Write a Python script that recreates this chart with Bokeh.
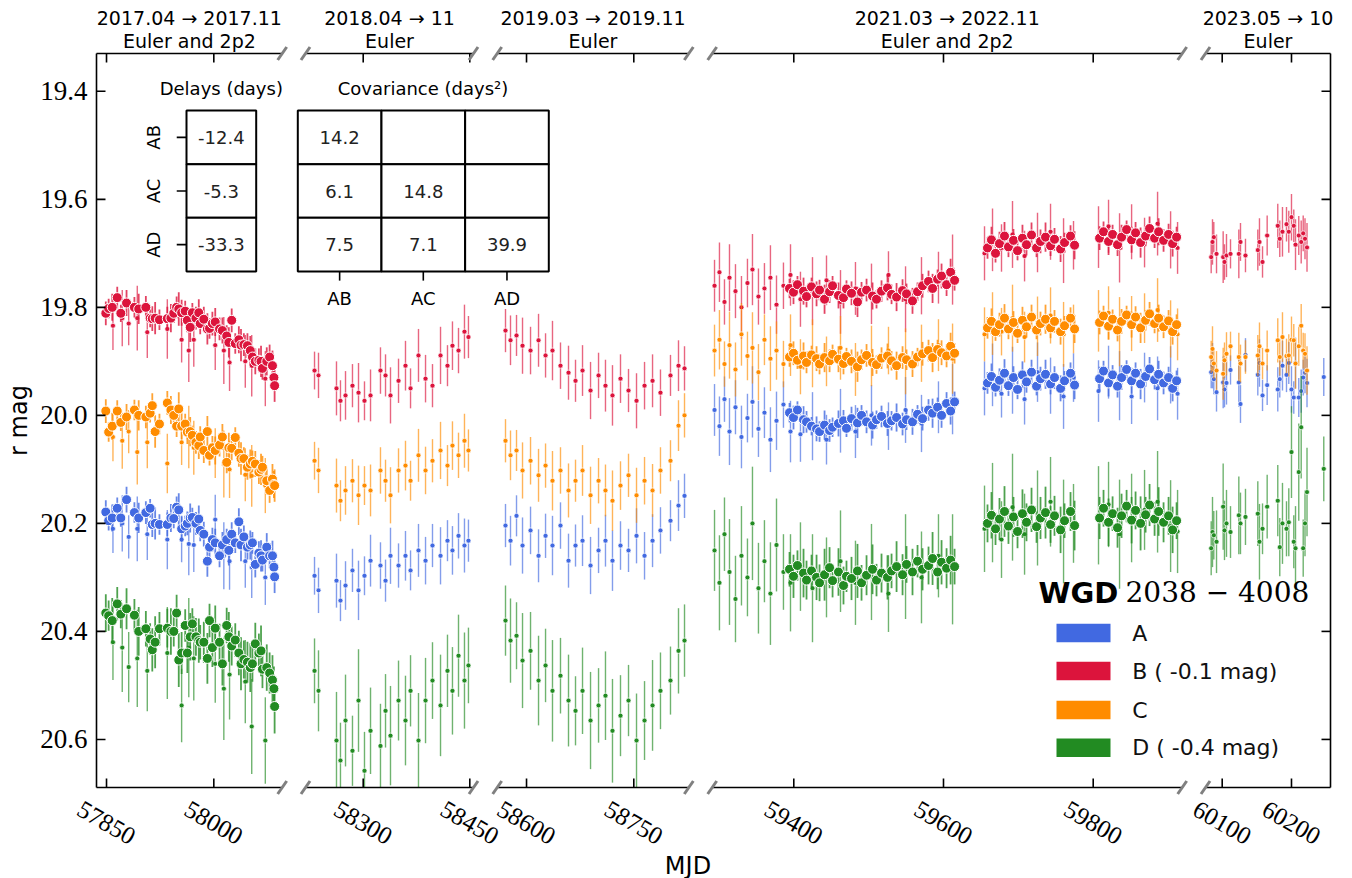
import math
from bokeh.plotting import figure
from bokeh.models import Range1d, CoordinateMapping
from bokeh.embed import file_html
from bokeh.resources import INLINE
from bokeh.core.properties import value

NaN = float("nan")

# ---------------------------------------------------------------- data
# Light curves of WGD 2038-4008 (true magnitudes; B and D are shown shifted)
IMAGES = ["A", "B", "C", "D"]
COLORS = {"A": "#4169E1", "B": "#DC143C", "C": "#FF8C00", "D": "#228B22"}
SHIFTS = {"A": 0.0, "B": -0.1, "C": 0.0, "D": -0.4}
LEGEND_LABELS = ["A", "B ( -0.1 mag)", "C", "D ( -0.4 mag)"]

# season 2017, 2p2 (large markers)
s1_2p2_mjd = [57849, 57853, 57858, 57865, 57870, 57878, 57889, 57895, 57905, 57911, 57914, 57918, 57924,
              57935, 57940, 57944, 57948, 57951, 57955, 57960, 57963, 57967, 57970, 57975, 57979, 57981,
              57986, 57991, 57994, 57998, 58002, 58008, 58012, 58018, 58021, 58025, 58030, 58035, 58038,
              58042, 58047, 58051, 58054, 58058, 58063, 58066, 58068, 58074, 58078, 58082, 58084, 58085]
s1_2p2_A = [20.179, 20.195, 20.190, 20.172, 20.190, 20.156, 20.180, 20.190, 20.180, 20.172, 20.202, 20.200, 20.202,
            20.202, 20.190, 20.191, 20.170, 20.175, 20.210, 20.205, 20.200, 20.190, 20.189, 20.200, 20.192, 20.213,
            20.220, 20.270, 20.244, 20.230, 20.236, 20.260, 20.240, 20.230, 20.250, 20.220, 20.236, 20.197, 20.240,
            20.225, 20.244, 20.240, 20.236, 20.276, 20.255, 20.260, 20.268, 20.244, 20.260, 20.260, 20.281, 20.299]
s1_2p2_B = [19.911, 19.902, 19.900, 19.882, 19.911, 19.892, 19.900, 19.903, 19.900, 19.920, 19.921, 19.920, 19.923,
            19.921, 19.920, 19.911, 19.900, 19.903, 19.910, 19.907, 19.924, 19.937, 19.910, 19.920, 19.910, 19.930,
            19.922, 19.940, 19.939, 19.930, 19.927, 19.940, 19.943, 19.953, 19.965, 19.924, 19.967, 19.960, 19.970,
            19.969, 19.971, 19.980, 19.992, 20.000, 19.998, 20.000, 20.013, 20.000, 19.992, 20.008, 20.030, 20.045]
s1_2p2_C = [19.992, 20.031, 20.020, 19.992, 20.013, 20.003, 19.990, 20.000, 20.003, 19.996, 19.982, 20.030, 20.016,
            19.977, 19.990, 20.000, 20.020, 19.988, 20.020, 20.016, 20.031, 20.030, 20.037, 20.050, 20.056, 20.040,
            20.065, 20.030, 20.074, 20.060, 20.065, 20.055, 20.040, 20.087, 20.060, 20.061, 20.041, 20.070, 20.080,
            20.080, 20.096, 20.090, 20.085, 20.090, 20.105, 20.100, 20.096, 20.121, 20.139, 20.118, 20.128, 20.130]
s1_2p2_D = [20.766, 20.771, 20.780, 20.749, 20.768, 20.758, 20.770, 20.800, 20.795, 20.814, 20.834, 20.820, 20.795,
            20.794, 20.800, 20.800, 20.766, 20.853, 20.840, 20.789, 20.840, 20.810, 20.786, 20.810, 20.817, 20.820,
            20.820, 20.850, 20.780, 20.830, 20.794, 20.820, 20.860, 20.789, 20.810, 20.827, 20.816, 20.840, 20.860,
            20.852, 20.857, 20.867, 20.860, 20.823, 20.840, 20.836, 20.870, 20.867, 20.877, 20.890, 20.906, 20.939]
s1_2p2_err = [0.022, 0.018, 0.025, 0.020, 0.016, 0.024, 0.019, 0.028, 0.021, 0.017, 0.023, 0.030, 0.019,
              0.022, 0.026, 0.018, 0.020, 0.031, 0.024, 0.019, 0.022, 0.027, 0.018, 0.021, 0.025, 0.020,
              0.023, 0.029, 0.019, 0.022, 0.026, 0.021, 0.024, 0.020, 0.028, 0.022, 0.019, 0.025, 0.030,
              0.021, 0.023, 0.027, 0.020, 0.024, 0.022, 0.029, 0.021, 0.026, 0.023, 0.028, 0.025, 0.030]
s1_2p2_errD = [0.035, 0.028, 0.042, 0.031, 0.026, 0.038, 0.030, 0.045, 0.033, 0.029, 0.040, 0.048, 0.031,
               0.036, 0.043, 0.028, 0.034, 0.050, 0.039, 0.030, 0.037, 0.044, 0.029, 0.035, 0.041, 0.032,
               0.038, 0.047, 0.031, 0.036, 0.042, 0.034, 0.040, 0.033, 0.046, 0.036, 0.031, 0.041, 0.049,
               0.035, 0.038, 0.045, 0.033, 0.039, 0.036, 0.047, 0.035, 0.043, 0.038, 0.046, 0.041, 0.050]

# season 2017, Euler (small markers)
s1_eul_mjd = [57859, 57872, 57881, 57893, 57907, 57935, 57955, 57965, 57972, 58002, 58014, 58022, 58044, 58053, 58072]
s1_eul_A = [20.210, 20.200, 20.225, 20.210, 20.220, 20.230, 20.230, 20.238, 20.240, 20.193, 20.260, 20.270, 20.270, 20.281, 20.300]
s1_eul_B = [19.934, 19.920, 19.930, 19.920, 19.946, 19.940, 19.960, 19.980, 19.960, 19.970, 19.980, 20.002, 20.000, 20.008, 20.032]
s1_eul_C = [20.040, 20.047, 20.030, 20.068, 20.050, 20.089, 20.050, 20.040, 20.060, 20.070, 20.090, 20.100, 20.110, 20.112, 20.130]
s1_eul_D = [20.820, 20.830, 20.866, 20.850, 20.873, 20.840, 20.937, 20.830, 20.850, 20.860, 20.906, 20.880, 20.893, 20.976, 21.002]
s1_eul_err = [0.045, 0.052, 0.040, 0.060, 0.048, 0.055, 0.042, 0.058, 0.050, 0.046, 0.062, 0.053, 0.049, 0.057, 0.051]
s1_eul_errD = [0.070, 0.082, 0.065, 0.090, 0.075, 0.085, 0.068, 0.092, 0.078, 0.072, 0.095, 0.083, 0.077, 0.088, 0.080]

# season 2018, Euler
s2_mjd = [58231.5, 58237.1, 58262.4, 58268.0, 58275.1, 58284.9, 58293.4, 58301.8, 58310.3, 58324.3, 58331.4, 58338.4,
          58349.7, 58359.5, 58366.6, 58377.8, 58387.7, 58397.5, 58408.8, 58418.6, 58425.6, 58434.1, 58442.5, 58448.1]
s2_A = [20.297, 20.324, 20.306, 20.343, 20.315, 20.287, 20.324, 20.297, 20.269, 20.278, 20.306, 20.260,
        20.278, 20.260, 20.287, 20.250, 20.269, 20.241, 20.260, 20.232, 20.250, 20.223, 20.241, 20.232]
s2_B = [20.017, 20.026, 20.050, 20.073, 20.063, 20.045, 20.058, 20.073, 20.063, 20.017, 20.026, 20.063,
        20.036, 20.008, 20.050, 19.989, 20.032, 20.045, 19.989, 20.008, 19.971, 19.980, 19.945, 19.955]
s2_C = [20.084, 20.102, 20.130, 20.158, 20.139, 20.121, 20.148, 20.130, 20.139, 20.102, 20.121, 20.148,
        20.102, 20.093, 20.121, 20.074, 20.102, 20.084, 20.065, 20.093, 20.056, 20.074, 20.047, 20.065]
s2_D = [20.873, 20.910, 21.002, 21.039, 20.965, 21.021, 20.928, 21.058, 20.984, 21.012, 20.947, 20.993,
        20.928, 20.965, 20.910, 21.002, 20.928, 20.891, 20.937, 20.873, 20.910, 20.845, 20.891, 20.863]
s2_err = [0.035, 0.042, 0.050, 0.038, 0.045, 0.040, 0.055, 0.036, 0.048, 0.043, 0.039, 0.052,
          0.041, 0.046, 0.037, 0.049, 0.044, 0.040, 0.053, 0.038, 0.045, 0.042, 0.050, 0.039]
s2_errD = [0.060, 0.075, 0.090, 0.070, 0.085, 0.065, 0.095, 0.072, 0.080, 0.078, 0.068, 0.092,
           0.074, 0.083, 0.066, 0.088, 0.079, 0.071, 0.094, 0.067, 0.081, 0.076, 0.089, 0.070]

# season 2019, Euler
s3_mjd = [58570.6, 58577.6, 58586.0, 58594.4, 58605.6, 58616.8, 58626.6, 58636.3, 58647.5, 58658.7, 58668.5, 58678.3,
          58689.5, 58700.7, 58710.4, 58720.2, 58731.4, 58742.6, 58753.8, 58765.0, 58776.2, 58787.3, 58801.3, 58812.5, 58820.9]
s3_A = [20.204, 20.232, 20.186, 20.241, 20.213, 20.260, 20.223, 20.241, 20.204, 20.269, 20.241, 20.232,
        20.278, 20.250, 20.232, 20.269, 20.241, 20.250, 20.223, 20.260, 20.232, 20.213, 20.195, 20.167, 20.149]
s3_B = [19.943, 19.961, 19.952, 19.971, 19.980, 19.961, 19.989, 19.980, 20.008, 20.021, 20.036, 20.017,
        20.054, 20.026, 20.045, 20.063, 20.032, 20.054, 20.073, 20.045, 20.036, 20.058, 20.026, 20.008, 20.013]
s3_C = [20.047, 20.074, 20.065, 20.102, 20.084, 20.111, 20.093, 20.121, 20.102, 20.139, 20.121, 20.102,
        20.148, 20.121, 20.139, 20.158, 20.130, 20.111, 20.148, 20.121, 20.139, 20.102, 20.084, 20.019, 20.000]
s3_D = [20.780, 20.817, 20.808, 20.854, 20.836, 20.891, 20.863, 20.910, 20.882, 20.928, 20.947, 20.910,
        20.965, 20.937, 20.919, 20.984, 20.956, 20.928, 21.002, 20.965, 20.937, 20.910, 20.891, 20.836, 20.817]
s3_err = [0.040, 0.046, 0.038, 0.052, 0.044, 0.049, 0.041, 0.055, 0.043, 0.050, 0.039, 0.047,
          0.053, 0.042, 0.048, 0.056, 0.045, 0.040, 0.051, 0.044, 0.049, 0.043, 0.038, 0.047, 0.041]
s3_errD = [0.065, 0.078, 0.062, 0.088, 0.072, 0.083, 0.068, 0.094, 0.070, 0.085, 0.064, 0.080,
           0.090, 0.069, 0.082, 0.096, 0.075, 0.066, 0.087, 0.073, 0.084, 0.071, 0.063, 0.079, 0.067]

# seasons 2021-2022, 2p2 (large markers)
s4_2p2_mjd = [59394.3, 59399.6, 59404.9, 59413.0, 59417.0, 59423.7, 59430.4, 59434.4, 59441.1, 59447.8, 59451.8, 59459.7,
              59466.4, 59470.4, 59477.1, 59485.1, 59490.5, 59497.2, 59505.2, 59510.5, 59517.2, 59525.2, 59530.6, 59537.3,
              59545.3, 59550.6, 59558.6, 59565.3, 59572.0, 59580.0, 59585.4, 59592.1, 59597.4, 59604.1, 59609.5, 59614.8,
              59658.8, 59664.1, 59669.5, 59674.8, 59681.5, 59686.8, 59693.5, 59698.9, 59705.5, 59710.9, 59717.6, 59724.3,
              59729.6, 59736.3, 59743.0, 59748.3, 59756.4, 59761.7, 59769.7, 59775.1, 59808.5, 59813.8, 59820.5, 59825.9,
              59832.5, 59837.9, 59844.6, 59851.3, 59856.6, 59863.3, 59870.0, 59875.3, 59882.0, 59887.4, 59894.0, 59900.7,
              59906.1, 59911.4]
s4_2p2_A = [19.995, 20.004, 19.990, 20.008, 20.012, 20.020, 20.025, 20.030, 20.018, 20.028, 20.022, 20.015,
            20.010, 20.024, 20.006, 20.014, 20.000, 20.012, 20.018, 20.008, 20.002, 20.015, 20.010, 20.004,
            20.016, 20.008, 20.012, 19.998, 20.006, 19.990, 19.996, 19.985, 20.000, 19.978, 19.992, 19.975,
            19.940, 19.928, 19.948, 19.935, 19.922, 19.945, 19.930, 19.952, 19.925, 19.938, 19.920, 19.946,
            19.932, 19.924, 19.942, 19.930, 19.950, 19.936, 19.922, 19.944, 19.932, 19.918, 19.940, 19.925,
            19.946, 19.930, 19.915, 19.936, 19.922, 19.942, 19.928, 19.914, 19.934, 19.924, 19.940, 19.930,
            19.950, 19.936]
s4_2p2_B = [19.865, 19.872, 19.858, 19.870, 19.880, 19.862, 19.875, 19.868, 19.885, 19.871, 19.860, 19.878,
            19.882, 19.866, 19.874, 19.890, 19.872, 19.868, 19.879, 19.885, 19.870, 19.864, 19.876, 19.881,
            19.869, 19.875, 19.888, 19.871, 19.860, 19.852, 19.865, 19.848, 19.842, 19.858, 19.835, 19.850,
            19.790, 19.775, 19.800, 19.782, 19.768, 19.788, 19.776, 19.795, 19.772, 19.784, 19.766, 19.790,
            19.778, 19.770, 19.786, 19.774, 19.792, 19.780, 19.768, 19.785, 19.772, 19.760, 19.778, 19.765,
            19.784, 19.770, 19.756, 19.775, 19.762, 19.780, 19.768, 19.754, 19.772, 19.760, 19.776, 19.765,
            19.782, 19.770]
s4_2p2_C = [19.892, 19.885, 19.898, 19.890, 19.902, 19.888, 19.895, 19.905, 19.893, 19.899, 19.887, 19.896,
            19.904, 19.891, 19.900, 19.910, 19.897, 19.889, 19.902, 19.906, 19.894, 19.890, 19.899, 19.908,
            19.893, 19.897, 19.905, 19.892, 19.886, 19.880, 19.893, 19.878, 19.884, 19.890, 19.872, 19.885,
            19.838, 19.826, 19.845, 19.832, 19.820, 19.840, 19.828, 19.848, 19.824, 19.836, 19.818, 19.842,
            19.830, 19.822, 19.838, 19.826, 19.845, 19.834, 19.820, 19.840, 19.828, 19.816, 19.835, 19.822,
            19.842, 19.826, 19.814, 19.832, 19.818, 19.838, 19.824, 19.812, 19.830, 19.820, 19.836, 19.825,
            19.845, 19.832]
s4_2p2_D = [20.685, 20.698, 20.678, 20.692, 20.705, 20.688, 20.700, 20.710, 20.695, 20.682, 20.706, 20.690,
            20.715, 20.698, 20.702, 20.688, 20.710, 20.696, 20.685, 20.705, 20.692, 20.700, 20.688, 20.680,
            20.695, 20.676, 20.690, 20.670, 20.685, 20.678, 20.665, 20.690, 20.672, 20.683, 20.668, 20.680,
            20.600, 20.585, 20.610, 20.592, 20.578, 20.605, 20.588, 20.615, 20.582, 20.598, 20.575, 20.606,
            20.590, 20.580, 20.602, 20.586, 20.612, 20.595, 20.578, 20.604, 20.590, 20.572, 20.598, 20.582,
            20.608, 20.586, 20.568, 20.594, 20.576, 20.600, 20.584, 20.566, 20.592, 20.578, 20.598, 20.586,
            20.612, 20.595]
s4_2p2_err = [0.018, 0.022, 0.016, 0.025, 0.020, 0.017, 0.023, 0.019, 0.027, 0.021, 0.018, 0.024,
              0.020, 0.016, 0.022, 0.028, 0.019, 0.021, 0.025, 0.017, 0.020, 0.023, 0.018, 0.026,
              0.021, 0.019, 0.024, 0.017, 0.022, 0.020, 0.027, 0.018, 0.023, 0.021, 0.025, 0.019,
              0.020, 0.024, 0.017, 0.022, 0.026, 0.019, 0.021, 0.018, 0.025, 0.020, 0.023, 0.017,
              0.022, 0.027, 0.019, 0.021, 0.024, 0.018, 0.020, 0.026, 0.022, 0.019, 0.025, 0.018,
              0.021, 0.023, 0.017, 0.024, 0.020, 0.028, 0.019, 0.022, 0.018, 0.025, 0.021, 0.020,
              0.024, 0.019]
s4_2p2_errD = [0.032, 0.040, 0.028, 0.045, 0.036, 0.030, 0.042, 0.034, 0.048, 0.038, 0.031, 0.044,
               0.035, 0.029, 0.040, 0.050, 0.033, 0.037, 0.046, 0.030, 0.036, 0.041, 0.032, 0.047,
               0.038, 0.034, 0.043, 0.030, 0.039, 0.035, 0.049, 0.032, 0.041, 0.037, 0.045, 0.033,
               0.035, 0.043, 0.030, 0.039, 0.047, 0.033, 0.037, 0.031, 0.045, 0.035, 0.041, 0.030,
               0.039, 0.048, 0.034, 0.037, 0.043, 0.032, 0.036, 0.046, 0.039, 0.034, 0.044, 0.032,
               0.037, 0.041, 0.030, 0.043, 0.035, 0.050, 0.033, 0.039, 0.031, 0.045, 0.037, 0.035,
               0.043, 0.034]

# seasons 2021-2022, Euler
s4_eul_mjd = [59294.1, 59300.7, 59307.4, 59314.1, 59322.1, 59330.1, 59338.1, 59344.8, 59352.8, 59360.8, 59368.8,
              59376.9, 59386.2, 59395.6, 59408.9, 59425.0, 59443.7, 59462.4, 59482.4, 59503.8, 59526.5, 59549.3,
              59570.6, 59593.3, 59612.1, 59654.8, 59665.5, 59677.5, 59692.2, 59708.3, 59725.6, 59743.0, 59760.4,
              59773.7, 59807.1, 59820.5, 59835.2, 59851.3, 59868.6, 59886.0, 59903.4, 59912.7]
s4_eul_A = [19.990, 20.020, 19.970, 20.030, 19.985, 20.040, 20.005, 19.975, 20.025, 19.995, 20.045, 20.010,
            19.980, 20.030, 20.035, 20.020, 20.045, 20.010, 20.030, 20.000, 20.020, 19.990, 20.015, 19.985,
            19.970, 19.950, 19.925, 19.960, 19.935, 19.970, 19.920, 19.945, 19.965, 19.930, 19.955, 19.920,
            19.945, 19.965, 19.930, 19.950, 19.925, 19.960]
s4_eul_B = [19.860, 19.835, 19.890, 19.845, 19.870, 19.900, 19.855, 19.830, 19.880, 19.865, 19.845, 19.895,
            19.860, 19.840, 19.885, 19.870, 19.850, 19.890, 19.865, 19.875, 19.840, 19.885, 19.860, 19.845,
            19.830, 19.800, 19.775, 19.790, 19.765, 19.805, 19.780, 19.760, 19.795, 19.785, 19.770, 19.750,
            19.790, 19.760, 19.780, 19.745, 19.775, 19.790]
s4_eul_C = [19.880, 19.860, 19.905, 19.870, 19.915, 19.850, 19.890, 19.875, 19.920, 19.860, 19.895, 19.880,
            19.905, 19.870, 19.910, 19.885, 19.900, 19.875, 19.915, 19.890, 19.880, 19.900, 19.885, 19.870,
            19.895, 19.850, 19.830, 19.845, 19.820, 19.855, 19.835, 19.815, 19.850, 19.840, 19.825, 19.810,
            19.845, 19.830, 19.820, 19.805, 19.840, 19.850]
s4_eul_D = [20.650, 20.710, 20.620, 20.690, 20.740, 20.660, 20.700, 20.600, 20.720, 20.670, 20.730, 20.640,
            20.690, 20.710, 20.680, 20.720, 20.700, 20.670, 20.710, 20.690, 20.730, 20.680, 20.700, 20.660,
            20.685, 20.610, 20.580, 20.630, 20.570, 20.620, 20.590, 20.560, 20.615, 20.600, 20.585, 20.565,
            20.620, 20.590, 20.575, 20.560, 20.605, 20.615]
s4_eul_err = [0.048, 0.055, 0.042, 0.062, 0.050, 0.058, 0.045, 0.066, 0.052, 0.047, 0.060, 0.054,
              0.043, 0.057, 0.051, 0.063, 0.046, 0.059, 0.049, 0.056, 0.044, 0.061, 0.053, 0.048,
              0.065, 0.050, 0.058, 0.044, 0.062, 0.047, 0.055, 0.052, 0.060, 0.045, 0.057, 0.049,
              0.064, 0.051, 0.046, 0.059, 0.053, 0.048]
s4_eul_errD = [0.075, 0.088, 0.068, 0.098, 0.080, 0.092, 0.072, 0.105, 0.084, 0.076, 0.095, 0.086,
               0.070, 0.090, 0.082, 0.100, 0.074, 0.094, 0.078, 0.089, 0.071, 0.097, 0.085, 0.077,
               0.102, 0.080, 0.092, 0.071, 0.099, 0.075, 0.088, 0.083, 0.096, 0.073, 0.091, 0.079,
               0.101, 0.082, 0.074, 0.094, 0.085, 0.077]

# season 2023, Euler
s5_mjd = [60084.1, 60086.0, 60087.9, 60091.8, 60101.4, 60103.3, 60106.2, 60112.0, 60124.0, 60126.4, 60133.6,
          60151.4, 60153.8, 60158.2, 60164.9, 60180.2, 60183.1, 60187.0, 60192.8, 60196.1, 60200.0, 60203.3,
          60205.8, 60210.5, 60214.0, 60216.9, 60219.5, 60222.4, 60246.6]
s5_A = [19.920, 19.908, 19.933, 19.957, 19.939, 19.952, 19.940, 19.916, 19.939, 19.979, 19.888, 19.925,
        19.903, 19.963, 19.944, 19.952, 19.933, 19.908, 19.925, 19.903, 19.952, 19.967, 19.903, 19.967,
        19.955, 19.930, 19.921, 19.940, 19.929]
s5_B = [19.807, 19.779, 19.770, 19.801, 19.807, 19.816, 19.804, 19.801, 19.801, 19.779, 19.804, 19.794,
        19.779, 19.816, 19.767, 19.749, 19.773, 19.760, 19.746, 19.760, 19.733, 19.749, 19.784, 19.767,
        19.779, 19.763, 19.773, 19.789, NaN]
s5_C = [19.892, 19.877, 19.904, 19.917, 19.923, 19.898, 19.886, 19.872, 19.892, 19.904, 19.892, 19.889,
        19.872, 19.904, 19.880, 19.861, 19.892, 19.855, 19.890, 19.889, 19.860, 19.861, 19.904, 19.872,
        19.834, 19.880, 19.886, 19.917, NaN]
s5_D = [20.646, 20.616, 20.622, 20.634, 20.569, 20.613, 20.600, 20.616, 20.585, 20.600, 20.588, 20.582,
        20.634, 20.610, 20.569, 20.558, 20.644, 20.600, 20.610, 20.598, 20.468, 20.634, 20.646, 20.505,
        20.422, 20.646, 20.600, 20.542, 20.499]
s5_err = [0.030, 0.042, 0.028, 0.036, 0.048, 0.033, 0.040, 0.027, 0.045, 0.035, 0.031, 0.038, 0.044,
          0.029, 0.037, 0.041, 0.034, 0.046, 0.032, 0.039, 0.043, 0.030, 0.047, 0.036, 0.040, 0.033,
          0.038, 0.045, 0.035]
s5_errD = [0.050, 0.065, 0.045, 0.058, 0.080, 0.055, 0.062, 0.048, 0.072, 0.057, 0.052, 0.060, 0.070,
           0.047, 0.059, 0.066, 0.054, 0.075, 0.051, 0.063, 0.085, 0.049, 0.078, 0.090, 0.095, 0.053,
           0.061, 0.082, 0.060]

# inset tables
DELAY_ROWS = ["AB", "AC", "AD"]
DELAYS = ["-12.4", "-5.3", "-33.3"]
COV_COLS = ["AB", "AC", "AD"]
COV = [["14.2", "", ""], ["6.1", "14.8", ""], ["7.5", "7.1", "39.9"]]

# broken-axis segments
SEG_MJD0 = [57836.0, 58218.8, 58559.0, 59291.0, 60075.9]
SEG_MJD1 = [58095.6, 58455.2, 58826.9, 59918.9, 60256.3]
SEG_TICKS = [[57850, 58000], [58300, 58450], [58600, 58750], [59400, 59600, 59800], [60100, 60200]]
SEG_TITLE1 = ["2017.04 \u2192 2017.11", "2018.04 \u2192 11", "2019.03 \u2192 2019.11",
              "2021.03 \u2192 2022.11", "2023.05 \u2192 10"]
SEG_TITLE2 = ["Euler and 2p2", "Euler", "Euler", "Euler and 2p2", "Euler"]
Y_TICKS = [19.4, 19.6, 19.8, 20.0, 20.2, 20.4, 20.6]
Y_LABEL = "r mag"
X_LABEL = "MJD"

# ---------------------------------------------------------------- layout (canvas pixels)
W, H = 1352, 878
Y_TOP, Y_BOT = 19.330, 20.689           # magnitude range of the panels
PT, PB = 53.0, 787.0                     # panel top / bottom (px)
SEG_PX0 = [96.0, 305.0, 496.7, 711.7, 1205.0]
SEG_PX1 = [281.7, 473.0, 688.3, 1181.7, 1330.0]
SANS = "DejaVu Sans"
SERIF = "Liberation Serif"
TICK = 9

p = figure(frame_width=W, frame_height=H, x_range=Range1d(0, W), y_range=Range1d(H, 0),
           x_axis_location=None, y_axis_location=None, output_backend="svg", toolbar_location=None,
           min_border_left=0, min_border_right=0, min_border_top=0, min_border_bottom=0,
           background_fill_color="white", border_fill_color="white", title=None)
p.outline_line_color = None
p.grid.visible = False


def mapping(xs, xt, ys, yt):
    return CoordinateMapping(x_source=Range1d(*xs), x_target=Range1d(*xt),
                             y_source=Range1d(*ys), y_target=Range1d(*yt))


# y in magnitudes, x in canvas pixels
ymap = mapping((0, W), (0, W), (Y_TOP, Y_BOT), (PT, PB))
seg_data = [mapping((SEG_MJD0[i], SEG_MJD1[i]), (SEG_PX0[i], SEG_PX1[i]), (Y_TOP, Y_BOT), (PT, PB))
            for i in range(5)]
seg_deco = [mapping((SEG_MJD0[i], SEG_MJD1[i]), (SEG_PX0[i], SEG_PX1[i]), (0, H), (0, H))
            for i in range(5)]


def text(x, y, t, size, font=SANS, cm=None, angle=0.0, align="center", baseline="middle",
         style="normal", color="black"):
    r = p.text(x=x, y=y, text=t, text_font=value(font), text_font_size=size, angle=angle,
               text_align=align, text_baseline=baseline, text_font_style=style, text_color=color)
    if cm is not None:
        r.coordinates = cm
    return r


def segs(x0, y0, x1, y1, color="black", width=1.6, cm=None):
    r = p.segment(x0=x0, y0=y0, x1=x1, y1=y1, line_color=color, line_width=width)
    if cm is not None:
        r.coordinates = cm
    return r


# ---------------------------------------------------------------- light curves
DATASETS = [
    (0, s1_eul_mjd, {"A": s1_eul_A, "B": s1_eul_B, "C": s1_eul_C, "D": s1_eul_D}, s1_eul_err, s1_eul_errD, False),
    (0, s1_2p2_mjd, {"A": s1_2p2_A, "B": s1_2p2_B, "C": s1_2p2_C, "D": s1_2p2_D}, s1_2p2_err, s1_2p2_errD, True),
    (1, s2_mjd, {"A": s2_A, "B": s2_B, "C": s2_C, "D": s2_D}, s2_err, s2_errD, False),
    (2, s3_mjd, {"A": s3_A, "B": s3_B, "C": s3_C, "D": s3_D}, s3_err, s3_errD, False),
    (3, s4_eul_mjd, {"A": s4_eul_A, "B": s4_eul_B, "C": s4_eul_C, "D": s4_eul_D}, s4_eul_err, s4_eul_errD, False),
    (3, s4_2p2_mjd, {"A": s4_2p2_A, "B": s4_2p2_B, "C": s4_2p2_C, "D": s4_2p2_D}, s4_2p2_err, s4_2p2_errD, True),
    (4, s5_mjd, {"A": s5_A, "B": s5_B, "C": s5_C, "D": s5_D}, s5_err, s5_errD, False),
]

for seg, mjd, mags, err, errD, big in DATASETS:
    cm = seg_data[seg]
    for key in IMAGES:
        e = errD if key == "D" else err
        y = [m + SHIFTS[key] for m in mags[key]]
        # clip error bars to the panel (the panel is not a Bokeh frame here)
        lo = [min(max(a - b, Y_TOP), Y_BOT) for a, b in zip(y, e)]
        hi = [max(min(a + b, Y_BOT), Y_TOP) for a, b in zip(y, e)]
        r = p.segment(x0=mjd, x1=mjd, y0=lo, y1=hi, line_color=COLORS[key],
                      line_width=1.8 if big else 1.4, line_alpha=0.8 if big else 0.65)
        r.coordinates = cm
        keep = [k for k, v in enumerate(y) if Y_TOP <= v <= Y_BOT]
        r = p.scatter(x=[mjd[k] for k in keep], y=[y[k] for k in keep], size=10 if big else 5,
                      fill_color=COLORS[key], line_color="white", line_width=1.0 if big else 0.7)
        r.coordinates = cm

# ---------------------------------------------------------------- axes
# left / right spines with inward ticks
segs([SEG_PX0[0], SEG_PX1[4]], [Y_TOP, Y_TOP], [SEG_PX0[0], SEG_PX1[4]], [Y_BOT, Y_BOT], cm=ymap)
segs([SEG_PX0[0]] * len(Y_TICKS), Y_TICKS, [SEG_PX0[0] + TICK] * len(Y_TICKS), Y_TICKS, cm=ymap)
segs([SEG_PX1[4]] * len(Y_TICKS), Y_TICKS, [SEG_PX1[4] - TICK] * len(Y_TICKS), Y_TICKS, cm=ymap)
text([SEG_PX0[0] - 9] * len(Y_TICKS), Y_TICKS, ["%.1f" % t for t in Y_TICKS], "27px", font=SERIF,
     cm=ymap, align="right")
text([18], [0.5 * (PT + PB)], [Y_LABEL], "24px", angle=math.pi / 2)

# broken top / bottom spines
for i in range(5):
    segs([SEG_PX0[i], SEG_PX0[i]], [PT, PB], [SEG_PX1[i], SEG_PX1[i]], [PT, PB])
    tk = SEG_TICKS[i]
    n = len(tk)
    segs(tk, [PB] * n, tk, [PB - TICK] * n, cm=seg_deco[i])
    segs(tk, [PT] * n, tk, [PT + TICK] * n, cm=seg_deco[i])
    text(tk, [PB + 35] * n, [str(t) for t in tk], "25px", font=SERIF, cm=seg_deco[i], angle=-math.pi / 6)
    cx = 0.5 * (SEG_PX0[i] + SEG_PX1[i])
    text([cx], [17.5], [SEG_TITLE1[i]], "19px")
    text([cx], [40], [SEG_TITLE2[i]], "19px")

bx, by = [], []
for i in range(4):
    for xb in (SEG_PX1[i], SEG_PX0[i + 1]):
        for yb in (PT, PB):
            bx.append(xb); by.append(yb)
segs([x - 4.5 for x in bx], [y + 6.5 for y in by], [x + 4.5 for x in bx], [y - 6.5 for y in by],
     color="#808080", width=3)

text([687.5], [865], [X_LABEL], "24px")

# ---------------------------------------------------------------- inset tables
delay_cm = mapping((0, 1), (186.0, 255.7), (0, 3), (110.0, 271.0))
cov_cm = mapping((0, 3), (297.3, 548.3), (0, 3), (110.0, 271.0))

rows = list(range(len(DELAYS)))
r = p.quad(left=[0] * 3, right=[1] * 3, top=rows, bottom=[k + 1 for k in rows],
           fill_color="white", line_color="black", line_width=2)
r.coordinates = delay_cm
text([0.5] * 3, [k + 0.5 for k in rows], DELAYS, "18px", cm=delay_cm, color="#222222")
segs([-0.14] * 3, [k + 0.5 for k in rows], [0] * 3, [k + 0.5 for k in rows], cm=delay_cm)
text([-0.47] * 3, [k + 0.5 for k in rows], DELAY_ROWS, "18px", cm=delay_cm, angle=math.pi / 2)

cl, cr, ct, cb, ctxt, cx_, cy_ = [], [], [], [], [], [], []
for ri in range(3):
    for ci in range(3):
        cl.append(ci); cr.append(ci + 1); ct.append(ri); cb.append(ri + 1)
        ctxt.append(COV[ri][ci]); cx_.append(ci + 0.5); cy_.append(ri + 0.5)
r = p.quad(left=cl, right=cr, top=ct, bottom=cb, fill_color="white", line_color="black", line_width=2)
r.coordinates = cov_cm
text(cx_, cy_, ctxt, "18px", cm=cov_cm, color="#222222")
segs([0.5, 1.5, 2.5], [3] * 3, [0.5, 1.5, 2.5], [3.17] * 3, cm=cov_cm)
text([0.5, 1.5, 2.5], [3.5] * 3, COV_COLS, "18px", cm=cov_cm)

text([220.8, 422.5], [88, 88], ["Delays (days)", "Covariance (days\u00b2)"], "18px")

# ---------------------------------------------------------------- legend
LEG_Y = [632.5, 670.5, 709.5, 747.2]
r = p.quad(left=[1056] * 4, right=[1110] * 4, top=[y - 9.2 for y in LEG_Y], bottom=[y + 9.2 for y in LEG_Y],
           fill_color=[COLORS[k] for k in IMAGES], line_color=None)
text([1131.7] * 4, LEG_Y, LEGEND_LABELS, "22px", align="left", color="#111111")
text([1038], [592], ["WGD"], "29px", align="left", style="bold")
text([1125], [592], ["2038 \u2212 4008"], "28px", font="DejaVu Serif", align="left")

open("out.html", "w").write(file_html(p, INLINE))
